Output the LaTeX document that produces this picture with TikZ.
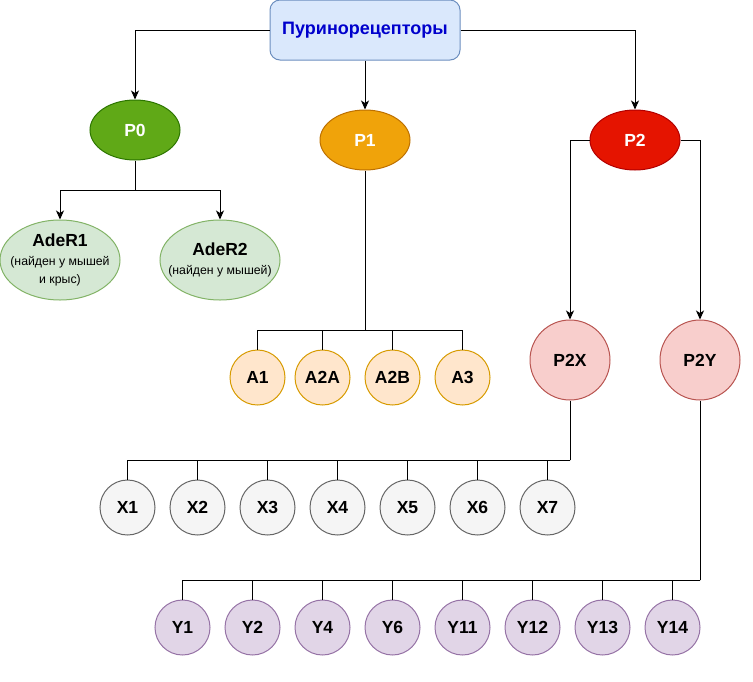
\documentclass[tikz,border=0pt]{standalone}
\usepackage{fontspec}
\setmainfont{Liberation Sans}
\usetikzlibrary{shapes.geometric,arrows.meta}
\definecolor{topfill}{HTML}{DAE8FC}
\definecolor{topline}{HTML}{6C8EBF}
\definecolor{toptext}{HTML}{0000CC}
\definecolor{pzfill}{HTML}{60A917}
\definecolor{pzline}{HTML}{2D7600}
\definecolor{ponefill}{HTML}{F0A30A}
\definecolor{poneline}{HTML}{BD7000}
\definecolor{ptwofill}{HTML}{E51400}
\definecolor{ptwoline}{HTML}{B20000}
\definecolor{adefill}{HTML}{D5E8D4}
\definecolor{adeline}{HTML}{82B366}
\definecolor{afill}{HTML}{FFE6CC}
\definecolor{aline}{HTML}{D79B00}
\definecolor{pxfill}{HTML}{F8CECC}
\definecolor{pxline}{HTML}{B85450}
\definecolor{xfill}{HTML}{F5F5F5}
\definecolor{xline}{HTML}{666666}
\definecolor{yfill}{HTML}{E1D5E7}
\definecolor{yline}{HTML}{9673A6}
\begin{document}
\begin{tikzpicture}[x=1pt,y=-1pt,
  base/.style={line width=1pt,inner sep=0pt,align=center,font=\fontsize{17.5}{20}\selectfont\bfseries},
  pell/.style={base,ellipse,minimum width=90pt,minimum height=60pt,text=white},
  adeell/.style={base,ellipse,inner xsep=-25pt,minimum width=120pt,minimum height=80pt,fill=adefill,draw=adeline},
  smallcirc/.style={base,circle,minimum size=55pt},
  bigcirc/.style={base,circle,minimum size=80pt,fill=pxfill,draw=pxline},
  acirc/.style={smallcirc,fill=afill,draw=aline},
  xcirc/.style={smallcirc,fill=xfill,draw=xline},
  ycirc/.style={smallcirc,fill=yfill,draw=yline},
  conn/.style={line width=1pt,draw=black},
  arr/.style={conn,-{Stealth[length=9pt,width=8pt,inset=2.5pt]}}
]
\useasboundingbox (0,0) rectangle (753,681);

\node[base,draw=topline,fill=topfill,rounded corners=10pt,minimum width=190pt,minimum height=60pt,text=toptext,font=\fontsize{18}{21}\selectfont\bfseries] (top) at (365,30) {Пуринорецепторы};

\node[pell,fill=pzfill,draw=pzline] (p0) at (135,130) {P0};
\node[pell,fill=ponefill,draw=poneline] (p1) at (365,140) {P1};
\node[pell,fill=ptwofill,draw=ptwoline] (p2) at (635,140) {P2};

\node[adeell] (ade1) at (60,260) {AdeR1\\[-1pt]{\fontsize{12.3}{14}\selectfont\mdseries (найден у мышей}\\[-2pt]{\fontsize{12.3}{14}\selectfont\mdseries и крыс)}};
\node[adeell] (ade2) at (220,260) {AdeR2\\[-1pt]{\fontsize{12.3}{14}\selectfont\mdseries (найден у мышей)}};

\node[acirc] (a1) at (257.5,377.5) {A1};
\node[acirc] (a2a) at (322.5,377.5) {A2A};
\node[acirc] (a2b) at (392.5,377.5) {A2B};
\node[acirc] (a3) at (462.5,377.5) {A3};

\node[bigcirc] (p2x) at (570,360) {P2X};
\node[bigcirc] (p2y) at (700,360) {P2Y};

\foreach \i/\lab [count=\k from 0] in {1/X1,2/X2,3/X3,4/X4,5/X5,6/X6,7/X7}
  \node[xcirc] (x\i) at (127.5+70*\k,507.5) {\lab};
\foreach \i/\lab [count=\k from 0] in {1/Y1,2/Y2,3/Y4,4/Y6,5/Y11,6/Y12,7/Y13,8/Y14}
  \node[ycirc] (y\i) at (182.5+70*\k,627.5) {\lab};

% connectors from top
\draw[arr] (top.west) -| (p0.north);
\draw[arr] (top.south) -- (p1.north);
\draw[arr] (top.east) -| (p2.north);

% P0 branches
\coordinate (p0j) at (135,190);
\draw[conn] (p0.south) -- (p0j);
\draw[arr] (p0j) -| (ade1.north);
\draw[arr] (p0j) -| (ade2.north);

% P1 branches
\coordinate (p1j) at (365,330);
\draw[conn] (p1.south) -- (p1j);
\foreach \n in {a1,a2a,a2b,a3}
  \draw[conn] (p1j) -| (\n.north);

% P2 branches
\draw[arr] (p2.west) -| (p2x.north);
\draw[arr] (p2.east) -| (p2y.north);

% P2X branches
\coordinate (pxj) at (570,460);
\draw[conn] (p2x.south) -- (pxj);
\foreach \i in {1,...,7}
  \draw[conn] (pxj) -| (x\i.north);

% P2Y branches
\coordinate (pyj) at (700,580);
\draw[conn] (p2y.south) -- (pyj);
\foreach \i in {1,...,8}
  \draw[conn] (pyj) -| (y\i.north);
\end{tikzpicture}
\end{document}
